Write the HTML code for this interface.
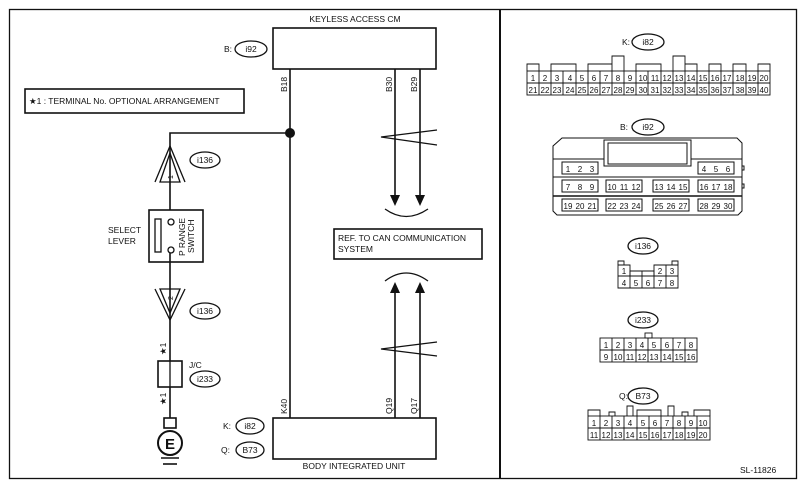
<!DOCTYPE html>
<html><head><meta charset="utf-8"><style>
html,body{margin:0;padding:0;background:#fff;}
svg{display:block;}
text{font-family:"Liberation Sans",sans-serif;fill:#111;}
</style></head><body>
<svg width="803" height="489" viewBox="0 0 803 489" xmlns="http://www.w3.org/2000/svg">
<g fill="none" stroke="#111" stroke-width="1.3">
<rect x="9.5" y="9.5" width="787" height="469"/>
<line x1="500" y1="10" x2="500" y2="478" stroke-width="2"/>
<!-- keyless -->
<rect x="273" y="28" width="163" height="41" stroke-width="1.6"/>
<rect x="273" y="418" width="163" height="41" stroke-width="1.6"/>
<line x1="290" y1="69" x2="290" y2="418" stroke-width="1.6"/>
<line x1="395" y1="69" x2="395" y2="196" stroke-width="1.6"/>
<line x1="420" y1="69" x2="420" y2="196" stroke-width="1.6"/>
<line x1="395" y1="418" x2="395" y2="292" stroke-width="1.6"/>
<line x1="420" y1="418" x2="420" y2="292" stroke-width="1.6"/>
<path d="M437 130 L381 137 L437 145"/>
<path d="M437 342 L381 349 L437 356"/>
<path d="M385 209 Q406 224 428 209"/>
<path d="M385 281 Q406 265 428 281"/>
<rect x="25" y="89" width="219" height="24" stroke-width="1.6"/>
<rect x="334" y="229" width="148" height="30" stroke-width="1.6"/>
<!-- left wire -->
<polyline points="290,133 170,133 170,210" stroke-width="1.6"/>
<path d="M160 182 L170 153 L180 182 Z"/>
<path d="M155 182 L170 146 L185 182"/>
<rect x="149" y="210" width="54" height="52" stroke-width="1.6"/>
<rect x="155" y="219" width="6" height="33"/>
<circle cx="171" cy="222" r="3"/>
<circle cx="171" cy="250" r="3"/>
<line x1="170" y1="253" x2="170" y2="418" stroke-width="1.6"/>
<path d="M160 289 L170 313 L180 289 Z"/>
<path d="M155 289 L170 320 L185 289"/>
<rect x="158" y="361" width="24" height="26" stroke-width="1.6" fill="#fff"/>
<line x1="170" y1="361" x2="170" y2="387"/>
<rect x="164" y="418" width="12" height="10" stroke-width="1.6"/>
<circle cx="170" cy="443" r="12" stroke-width="2"/>
<line x1="161" y1="458" x2="179" y2="458" stroke-width="1.6"/>
<line x1="163" y1="464" x2="177" y2="464" stroke-width="1.6"/>
<!-- ovals -->
<ellipse cx="251" cy="49" rx="16" ry="8"/>
<ellipse cx="205" cy="160" rx="15" ry="8"/>
<ellipse cx="205" cy="311" rx="15" ry="8"/>
<ellipse cx="205" cy="379" rx="15" ry="8"/>
<ellipse cx="250" cy="426" rx="14" ry="8"/>
<ellipse cx="250" cy="450" rx="14" ry="8"/>
<ellipse cx="648" cy="42" rx="16" ry="8"/>
<ellipse cx="648" cy="127" rx="16" ry="8"/>
<ellipse cx="643" cy="246" rx="15" ry="8"/>
<ellipse cx="643" cy="320" rx="15" ry="8"/>
<ellipse cx="643" cy="396" rx="15" ry="8"/>
</g>
<circle cx="290" cy="133" r="5" fill="#111"/>
<g fill="#111">
<path d="M390 195 L400 195 L395 206 Z"/><path d="M415 195 L425 195 L420 206 Z"/>
<path d="M390 293 L400 293 L395 282 Z"/><path d="M415 293 L425 293 L420 282 Z"/>
</g>
<g font-size="8.5">
<text x="355" y="22" text-anchor="middle">KEYLESS ACCESS CM</text>
<text x="354" y="469" text-anchor="middle">BODY INTEGRATED UNIT</text>
<text x="224" y="52">B:</text>
<text x="251" y="52" text-anchor="middle">i92</text>
<text x="29" y="104">★1  : TERMINAL No. OPTIONAL ARRANGEMENT</text>
<text x="338" y="241">REF. TO CAN COMMUNICATION</text>
<text x="338" y="252">SYSTEM</text>
<text x="205" y="163" text-anchor="middle">i136</text>
<text x="205" y="314" text-anchor="middle">i136</text>
<text x="205" y="382" text-anchor="middle">i233</text>
<text x="189" y="368">J/C</text>
<text x="108" y="233">SELECT</text>
<text x="108" y="244">LEVER</text>
<text x="223" y="429">K:</text><text x="250" y="429" text-anchor="middle">i82</text>
<text x="221" y="453">Q:</text><text x="250" y="453" text-anchor="middle">B73</text>
<text x="740" y="473">SL-11826</text>
<text x="622" y="45">K:</text><text x="648" y="45" text-anchor="middle">i82</text>
<text x="620" y="130">B:</text><text x="648" y="130" text-anchor="middle">i92</text>
<text x="643" y="249" text-anchor="middle">i136</text>
<text x="643" y="323" text-anchor="middle">i233</text>
<text x="619" y="399">Q:</text><text x="643" y="399" text-anchor="middle">B73</text>
<g transform="rotate(-90)">
<text x="-92" y="287">B18</text>
<text x="-92" y="392">B30</text>
<text x="-92" y="417">B29</text>
<text x="-414" y="287">K40</text>
<text x="-414" y="392">Q19</text>
<text x="-414" y="417">Q17</text>
<text x="-256" y="185">P RANGE</text>
<text x="-253" y="194">SWITCH</text>
<text x="-179" y="173" font-size="7">1</text>
<text x="-300" y="173" font-size="7">2</text>
<text x="-355" y="166">★1</text>
<text x="-405" y="166">★1</text>
</g>
</g>
<!-- K i82 -->
<g fill="none" stroke="#111" stroke-width="0.9">
<path d="M527 71 V64 H539 V71 M551 71 V64 H576 V71 M588 71 V64 H612 V71 M612 71 V56 H624 V71 M636 71 V64 H661 V71 M673 71 V56 H685 V71 M685 71 V64 H697 V71 M709 71 V64 H721 V71 M733 71 V64 H746 V71 M758 71 V64 H770 V71"/>
<rect x="527" y="71" width="243" height="24"/>
<line x1="527" y1="83" x2="770" y2="83"/>
</g>
<g id="kgrid" font-size="8" text-anchor="middle">
<text x="533" y="81">1</text><text x="545" y="81">2</text><text x="557" y="81">3</text><text x="570" y="81">4</text><text x="582" y="81">5</text><text x="594" y="81">6</text><text x="606" y="81">7</text><text x="618" y="81">8</text><text x="630" y="81">9</text><text x="643" y="81">10</text><text x="655" y="81">11</text><text x="667" y="81">12</text><text x="679" y="81">13</text><text x="691" y="81">14</text><text x="703" y="81">15</text><text x="715" y="81">16</text><text x="727" y="81">17</text><text x="740" y="81">18</text><text x="752" y="81">19</text><text x="764" y="81">20</text>
<text x="533" y="93">21</text><text x="545" y="93">22</text><text x="557" y="93">23</text><text x="570" y="93">24</text><text x="582" y="93">25</text><text x="594" y="93">26</text><text x="606" y="93">27</text><text x="618" y="93">28</text><text x="630" y="93">29</text><text x="643" y="93">30</text><text x="655" y="93">31</text><text x="667" y="93">32</text><text x="679" y="93">33</text><text x="691" y="93">34</text><text x="703" y="93">35</text><text x="715" y="93">36</text><text x="727" y="93">37</text><text x="740" y="93">38</text><text x="752" y="93">39</text><text x="764" y="93">40</text>
</g>
<g stroke="#111" stroke-width="0.9">
<line x1="539" y1="71" x2="539" y2="95"/><line x1="551" y1="71" x2="551" y2="95"/><line x1="563" y1="71" x2="563" y2="95"/><line x1="576" y1="71" x2="576" y2="95"/><line x1="588" y1="71" x2="588" y2="95"/><line x1="600" y1="71" x2="600" y2="95"/><line x1="612" y1="71" x2="612" y2="95"/><line x1="624" y1="71" x2="624" y2="95"/><line x1="636" y1="71" x2="636" y2="95"/><line x1="648" y1="71" x2="648" y2="95"/><line x1="661" y1="71" x2="661" y2="95"/><line x1="673" y1="71" x2="673" y2="95"/><line x1="685" y1="71" x2="685" y2="95"/><line x1="697" y1="71" x2="697" y2="95"/><line x1="709" y1="71" x2="709" y2="95"/><line x1="721" y1="71" x2="721" y2="95"/><line x1="733" y1="71" x2="733" y2="95"/><line x1="746" y1="71" x2="746" y2="95"/><line x1="758" y1="71" x2="758" y2="95"/>
</g>
<!-- B i92 housing -->
<g fill="none" stroke="#111" stroke-width="1">
<path d="M562 138 H737 L742 143 V211 L738 215 H557 L553 211 V146 Z"/>
<path d="M604 140 H691 V166 H604 Z M608 143 H687 V164 H608 Z"/>
<line x1="553" y1="159" x2="604" y2="159"/><line x1="691" y1="159" x2="742" y2="159"/>
<line x1="553" y1="177" x2="742" y2="177"/>
<line x1="553" y1="196" x2="742" y2="196" stroke-width="1.6"/>
<rect x="562" y="162" width="36" height="12"/><rect x="698" y="162" width="36" height="12"/>
<rect x="562" y="180" width="36" height="12"/><rect x="606" y="180" width="36" height="12"/><rect x="653" y="180" width="36" height="12"/><rect x="698" y="180" width="36" height="12"/>
<rect x="562" y="199" width="36" height="12"/><rect x="606" y="199" width="36" height="12"/><rect x="653" y="199" width="36" height="12"/><rect x="698" y="199" width="36" height="12"/>
<rect x="742" y="166" width="2" height="4"/><rect x="742" y="184" width="2" height="4"/>
</g>
<g font-size="8" text-anchor="middle">
<text x="568" y="172">1</text><text x="580" y="172">2</text><text x="592" y="172">3</text><text x="704" y="172">4</text><text x="716" y="172">5</text><text x="728" y="172">6</text>
<text x="568" y="190">7</text><text x="580" y="190">8</text><text x="592" y="190">9</text><text x="612" y="190">10</text><text x="624" y="190">11</text><text x="636" y="190">12</text><text x="659" y="190">13</text><text x="671" y="190">14</text><text x="683" y="190">15</text><text x="704" y="190">16</text><text x="716" y="190">17</text><text x="728" y="190">18</text>
<text x="568" y="209">19</text><text x="580" y="209">20</text><text x="592" y="209">21</text><text x="612" y="209">22</text><text x="624" y="209">23</text><text x="636" y="209">24</text><text x="659" y="209">25</text><text x="671" y="209">26</text><text x="683" y="209">27</text><text x="704" y="209">28</text><text x="716" y="209">29</text><text x="728" y="209">30</text>
</g>
<!-- i136 -->
<g fill="none" stroke="#111" stroke-width="0.9">
<path d="M618 288 V265 H630 V276 H654 V265 H678 V288 Z"/>
<line x1="618" y1="276" x2="678" y2="276"/>
<line x1="630" y1="276" x2="630" y2="288"/><line x1="642" y1="271" x2="642" y2="288"/><line x1="654" y1="276" x2="654" y2="288"/><line x1="666" y1="265" x2="666" y2="288"/>
<path d="M630 276 V271 H654 V276"/>
<path d="M618 265 V261 H624 V265 M672 265 V261 H678 V265"/>
</g>
<g font-size="8" text-anchor="middle">
<text x="624" y="274">1</text><text x="660" y="274">2</text><text x="672" y="274">3</text>
<text x="624" y="286">4</text><text x="636" y="286">5</text><text x="648" y="286">6</text><text x="660" y="286">7</text><text x="672" y="286">8</text>
</g>
<!-- i233 -->
<g fill="none" stroke="#111" stroke-width="0.9">
<rect x="600" y="338" width="97" height="24"/><line x1="600" y1="350" x2="697" y2="350"/>
<rect x="645" y="333" width="7" height="5"/>
<line x1="612" y1="338" x2="612" y2="362"/><line x1="624" y1="338" x2="624" y2="362"/><line x1="636" y1="338" x2="636" y2="362"/><line x1="648" y1="338" x2="648" y2="362"/><line x1="661" y1="338" x2="661" y2="362"/><line x1="673" y1="338" x2="673" y2="362"/><line x1="685" y1="338" x2="685" y2="362"/>
</g>
<g font-size="8" text-anchor="middle">
<text x="606" y="348">1</text><text x="618" y="348">2</text><text x="630" y="348">3</text><text x="642" y="348">4</text><text x="654" y="348">5</text><text x="667" y="348">6</text><text x="679" y="348">7</text><text x="691" y="348">8</text>
<text x="606" y="360">9</text><text x="618" y="360">10</text><text x="630" y="360">11</text><text x="642" y="360">12</text><text x="654" y="360">13</text><text x="667" y="360">14</text><text x="679" y="360">15</text><text x="691" y="360">16</text>
</g>
<!-- B73 -->
<g fill="none" stroke="#111" stroke-width="0.9">
<rect x="588" y="416" width="122" height="24"/><line x1="588" y1="428" x2="710" y2="428"/>
<path d="M588 416 V410 H600 V416 M609 416 V412 H615 V416 M627 416 V406 H633 V416 M637 416 V410 H661 V416 M668 416 V406 H674 V416 M682 416 V412 H688 V416 M694 416 V410 H710 V416"/>
<line x1="600" y1="416" x2="600" y2="440"/><line x1="612" y1="416" x2="612" y2="440"/><line x1="624" y1="416" x2="624" y2="440"/><line x1="637" y1="416" x2="637" y2="440"/><line x1="649" y1="416" x2="649" y2="440"/><line x1="661" y1="416" x2="661" y2="440"/><line x1="673" y1="416" x2="673" y2="440"/><line x1="685" y1="416" x2="685" y2="440"/><line x1="697" y1="416" x2="697" y2="440"/>
</g>
<g font-size="8" text-anchor="middle">
<text x="594" y="426">1</text><text x="606" y="426">2</text><text x="618" y="426">3</text><text x="630" y="426">4</text><text x="643" y="426">5</text><text x="655" y="426">6</text><text x="667" y="426">7</text><text x="679" y="426">8</text><text x="691" y="426">9</text><text x="703" y="426">10</text>
<text x="594" y="438">11</text><text x="606" y="438">12</text><text x="618" y="438">13</text><text x="630" y="438">14</text><text x="643" y="438">15</text><text x="655" y="438">16</text><text x="667" y="438">17</text><text x="679" y="438">18</text><text x="691" y="438">19</text><text x="703" y="438">20</text>
</g>
<text x="170" y="449" text-anchor="middle" font-size="15" font-weight="bold">E</text>
</svg>
</body></html>
